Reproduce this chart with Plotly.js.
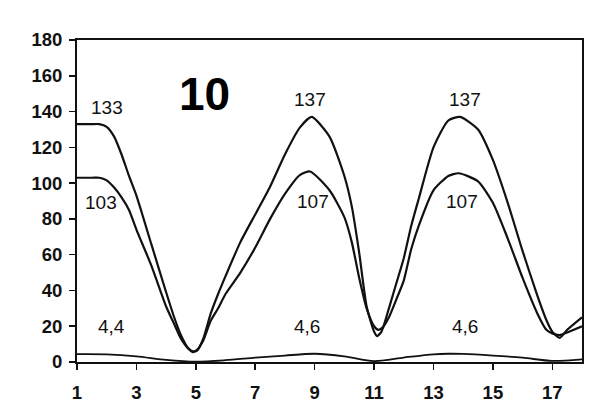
<!DOCTYPE html>
<html>
<head>
<meta charset="utf-8">
<script src="https://cdn.plot.ly/plotly-3.0.1.min.js"></script>
<style>html,body{margin:0;padding:0;background:#fff;}#chart{width:608px;height:420px;}</style>
</head>
<body>
<div id="chart"></div>
<script>
// Data
const xUpper = [1,1.5,1.75,2,2.25,2.5,2.75,3,3.5,4,4.25,4.5,4.75,4.9,5.05,5.25,5.5,5.75,6,6.5,7,7.5,8,8.5,8.9,9.5,10,10.25,10.5,10.75,11,11.1,11.25,11.5,11.75,12,12.25,12.5,13,13.5,13.9,14.5,15,15.5,16,16.5,16.8,17,17.25,17.5,18];
const upperSeries = [133,133,133,131.5,126,116,104,93,66,39,26,15,7.5,5.5,6.5,13,27,38,48,67,82.5,98,116,131,137,126,104,87,61,31,17,14.5,17,30,44,58,76,91,120,135,137,130,113,89,62,37,23.5,17,13.5,18,25];
const xMiddle = [1,1.5,1.75,2,2.25,2.5,2.75,3,3.5,4,4.25,4.5,4.75,4.9,5.05,5.25,5.5,5.75,6,6.5,7,7.5,8,8.5,8.85,9.5,10,10.25,10.5,10.75,11,11.15,11.3,11.5,11.75,12,12.25,12.5,13,13.5,13.85,14.5,15,15.5,16,16.5,16.8,17,17.25,17.5,18];
const middleSeries = [103,103,103,101.5,97.5,92,85,74,54,31,22,13,7.5,6,7,12,23,30,38,50,64,80,94,104.5,106.5,96,81,67,47,30,20,18,19.5,25,35,45.5,63,76,96,104,105.5,101,89,69,47,27,18,16,15,16.5,20];
const xLower = [1,2,3,4,5,6,7,8,9,10,11,12,13,13.5,14,15,16,17,18];
const lowerSeries = [4.4,4.3,3.2,1.2,0.2,1,2.4,3.6,4.6,3.2,0.5,2.5,4.3,4.6,4.5,3.6,2.4,0.6,1.5];
const xTicks = [1,3,5,7,9,11,13,15,17];
const yTicks = [0,20,40,60,80,100,120,140,160,180];
const labels = [
  {x:2, y:142, t:'133'}, {x:1.8, y:89, t:'103'}, {x:2.15, y:20, t:'4,4'},
  {x:8.85, y:147, t:'137'}, {x:8.95, y:90, t:'107'}, {x:8.75, y:20, t:'4,6'},
  {x:14.05, y:147, t:'137'}, {x:13.95, y:90, t:'107'}, {x:14.05, y:20, t:'4,6'}
];
const panelLabel = '10';

const lineStyle = {color:'#111', width:2.2, shape:'spline', smoothing:0.6};
const traces = [
  {x:xUpper, y:upperSeries, type:'scatter', mode:'lines', line:lineStyle, hoverinfo:'skip'},
  {x:xMiddle, y:middleSeries, type:'scatter', mode:'lines', line:lineStyle, hoverinfo:'skip'},
  {x:xLower, y:lowerSeries, type:'scatter', mode:'lines', line:{color:'#111', width:1.8, shape:'spline', smoothing:0.8}, hoverinfo:'skip'}
];
const annotations = labels.map(l => ({x:l.x, y:l.y, xref:'x', yref:'y', text:l.t, showarrow:false,
  font:{family:'Liberation Sans, Arial, sans-serif', size:19, color:'#111'}}));
annotations.push({x:5.3, y:150, xref:'x', yref:'y', text:'<b>'+panelLabel+'</b>', showarrow:false,
  font:{family:'Liberation Sans, Arial, sans-serif', size:46, color:'#000'}});

const tickFont = {size:18.5, family:'Liberation Sans, Arial, sans-serif', weight:'bold', color:'#111'};
const layout = {
  width:608, height:420,
  margin:{l:77, r:26, t:40, b:58},
  paper_bgcolor:'#fff', plot_bgcolor:'#fff',
  showlegend:false,
  font:{family:'Liberation Sans, Arial, sans-serif', color:'#111'},
  xaxis:{range:[1,18], tickvals:xTicks, ticktext:xTicks.map(String), ticks:'outside', ticklen:6, tickwidth:1.5, tickcolor:'#111',
    showline:true, linecolor:'#111', linewidth:2, mirror:true, showgrid:false, zeroline:false,
    ticklabelstandoff:7, tickfont:tickFont},
  yaxis:{range:[0,180], tickvals:yTicks, ticks:'outside', ticklen:6, tickwidth:1.5, tickcolor:'#111',
    showline:true, linecolor:'#111', linewidth:2, mirror:true, showgrid:false, zeroline:false,
    ticklabelstandoff:3, tickfont:tickFont},
  annotations:annotations
};
Plotly.newPlot('chart', traces, layout, {staticPlot:true, displayModeBar:false});
</script>
</body>
</html>
